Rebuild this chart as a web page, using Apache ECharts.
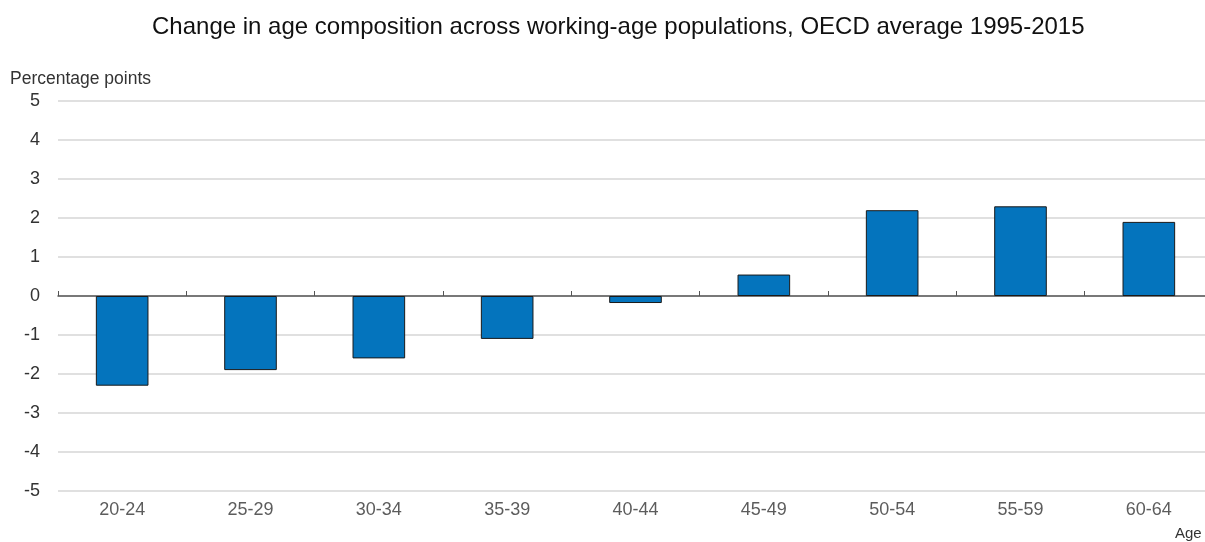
<!DOCTYPE html>
<html><head><meta charset="utf-8">
<script src="https://cdn.jsdelivr.net/npm/echarts@6/dist/echarts.min.js"></script>
<style>html,body{margin:0;padding:0;background:#fff;overflow:hidden}#c{width:1205px;height:542px}</style>
</head><body><div id="c"></div>
<script>
const categories = ['20-24','25-29','30-34','35-39','40-44','45-49','50-54','55-59','60-64'];
const values = [-2.3, -1.9, -1.6, -1.1, -0.18, 0.55, 2.2, 2.3, 1.9];
const yTicks = [-5,-4,-3,-2,-1,0,1,2,3,4,5];
const chart = echarts.init(document.getElementById('c'));
chart.setOption({
  animation:false,
  title:{text:'Change in age composition across working-age populations, OECD average 1995-2015',left:147,top:10,
    textStyle:{fontFamily:'Liberation Sans, Arial',fontSize:24,fontWeight:'normal',color:'#111'}},
  grid:{left:58,width:1155,top:101,bottom:51,outerBoundsMode:'none',containLabel:false},
  xAxis:{type:'category',data:categories,
    axisLine:{onZero:true,lineStyle:{color:'#555',width:1.5}},
    axisTick:{show:true,length:-5,lineStyle:{color:'#555'}},
    axisLabel:{show:false}},
  yAxis:{type:'value',min:-5,max:5,interval:1,
    axisLine:{show:false},axisTick:{show:false},
    axisLabel:{color:'#333',fontSize:18,fontFamily:'Liberation Sans, Arial',margin:18},
    splitLine:{lineStyle:{color:'#e0e0e0',width:2}}},
  graphic:[
    {type:'text',left:10,top:70,style:{text:'Percentage points',fontSize:17.5,fontFamily:'Liberation Sans, Arial',fill:'#333'}},
    {type:'text',left:1175,top:526,style:{text:'Age',fontSize:15,fontFamily:'Liberation Sans, Arial',fill:'#333'}}
  ],
  series:[{type:'bar',data:values,barWidth:'41%',
    itemStyle:{color:'#0474bd',borderColor:'#1a1a1a',borderWidth:1}},
   {type:'scatter',data:categories.map(()=>-5),symbolSize:0,silent:true,
    label:{show:true,position:'bottom',distance:10,formatter:p=>categories[p.dataIndex],color:'#333',fontSize:18,fontFamily:'Liberation Sans, Arial'}}]
});
</script></body></html>
